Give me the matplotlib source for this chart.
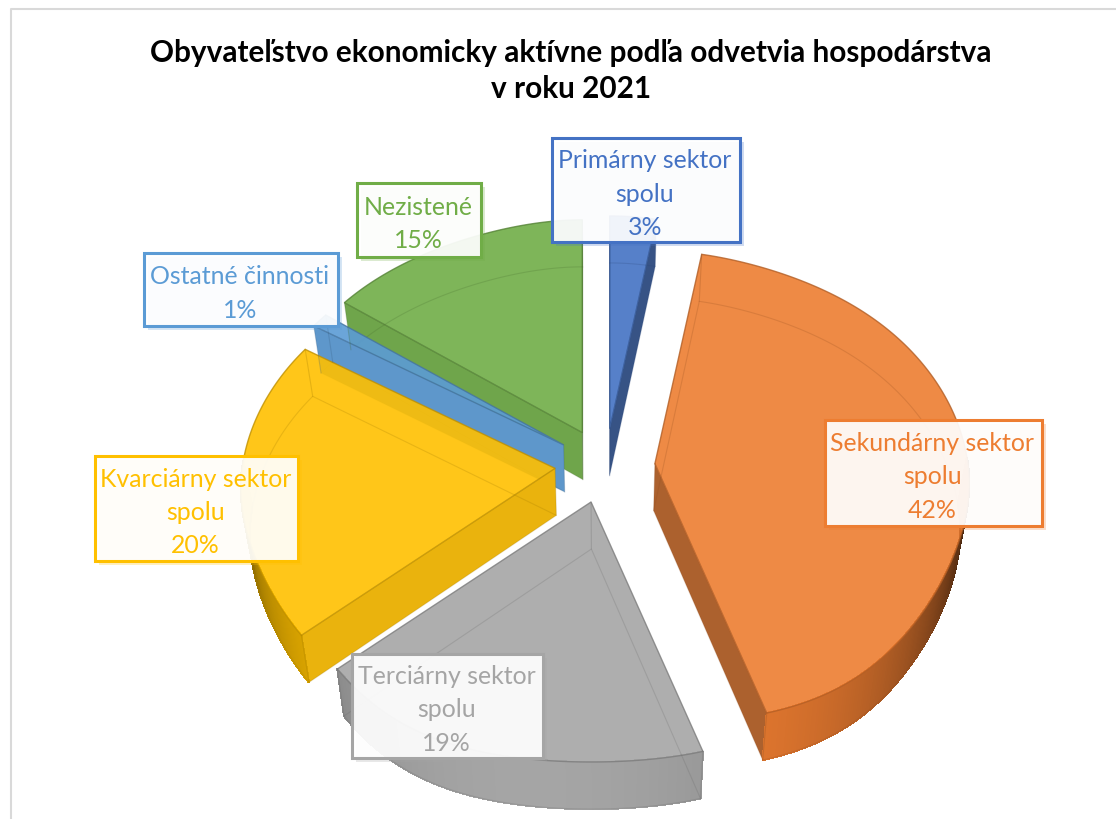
import numpy as np
import matplotlib
matplotlib.use("Agg")
import matplotlib.pyplot as plt
from matplotlib.patches import Polygon, Rectangle
from matplotlib.colors import to_rgb
import matplotlib.patheffects as pe

plt.rcParams['font.family'] = ['Lato', 'DejaVu Sans']

# data
kategorie = ["Primárny sektor\nspolu", "Sekundárny sektor\nspolu", "Terciárny sektor\nspolu",
             "Kvarciárny sektor\nspolu", "Ostatné činnosti", "Nezistené"]
hodnoty = [3, 42, 19, 20, 1, 15]
farby = ["#4472C4", "#ED7D31", "#A5A5A5", "#FFC000", "#5B9BD5", "#70AD47"]
titulok = "Obyvateľstvo ekonomicky aktívne podľa odvetvia hospodárstva\nv roku 2021"

# rozmery kolaca v pixeloch
CX, CY = 605, 467
RX, RY = 313, 234
EX, EY = 50, 37.5
HLBKA = 47
ALFA = 0.9

# obdlzniky popisiek (x0, y0, x1, y1)
boxy = [(552, 139, 740, 243), (825, 421, 1042, 527), (352, 655, 543, 759),
        (95, 457, 298, 562), (144, 254, 338, 327), (357, 184, 481, 258)]


def bod(t):
    """Bod na okraji kolaca, t je uhol v stupnoch v smere hodin od 12."""
    r = np.radians(t)
    v = np.cos(r)
    n = np.minimum(v, 0)
    sx = 1 - 0.10 * v - 0.12 * np.maximum(v, 0) ** 8 + 0.09 * n ** 6 - 0.12 * n ** 2 * (1 + n)
    sy = 1 / (1 + 0.10 * v) + 0.35 * n ** 2 * (1 + n)
    return RX * np.sin(r) * sx, -RY * v * sy


def spodok(p):
    """Spodna podstava je posunuta nadol a trochu uzsia."""
    p = np.asarray(p, dtype=float)
    return np.column_stack([CX + (p[:, 0] - CX) * 0.975, p[:, 1] + HLBKA])


def plocha(p):
    x, y = np.asarray(p).T
    return np.sum(x * np.roll(y, -1) - np.roll(x, -1) * y)


def tien_okraj(farba, facing):
    d = abs((facing - 190 + 180) % 360 - 180)
    s = max(0.2, 1 - 0.75 * (d / 90) ** 2)
    return tuple(c * s for c in to_rgb(farba))


def tien_stena(farba, facing):
    d = abs((facing - 180 + 180) % 360 - 180)
    s = 1 - 0.36 * (d / 80) ** 2
    return tuple(c * s * 0.95 + 0.05 for c in to_rgb(farba))


def stmav(farba, s=0.75):
    return tuple(c * s for c in to_rgb(farba))


def kresli_vysek(ax, t0, t1, farba):
    mid = (t0 + t1) / 2
    tip = np.array([CX + EX * np.sin(np.radians(mid)), CY - EY * np.cos(np.radians(mid))])
    uhly = np.linspace(t0, t1, max(3, int(t1 - t0) * 2 + 1))
    x, y = bod(uhly)
    okraj = np.column_stack([tip[0] + x, tip[1] + y])
    horna = np.vstack([tip, okraj])
    dolna = spodok(horna)

    # predne steny, zadne su len ako ciary cez priesvitnu plochu
    stena_a = [horna[0], horna[1], dolna[1], dolna[0]]
    stena_b = [horna[0], horna[-1], dolna[-1], dolna[0]]
    if plocha(stena_a) < 0:
        ax.add_patch(Polygon(stena_a, fc=tien_stena(farba, t0 - 90), ec="none"))
    if plocha(stena_b) > 0:
        ax.add_patch(Polygon(stena_b, fc=tien_stena(farba, t1 + 90), ec="none"))

    for i in range(1, len(horna) - 1):
        s = [horna[i], horna[i + 1], dolna[i + 1], dolna[i]]
        u = (uhly[i - 1] + uhly[i]) / 2
        if np.cos(np.radians(u)) < 0.03:
            c = tien_okraj(farba, u)
            ax.add_patch(Polygon(s, fc=c, ec=c, lw=0.8, antialiased=False))

    # vrchna plocha a hrany
    ax.add_patch(Polygon(horna, fc=farba, ec="none", alpha=ALFA))
    ax.add_patch(Polygon(horna, fc="none", ec=stmav(farba), lw=1.0, alpha=0.8))
    ax.add_patch(Polygon(dolna, fc="none", ec=stmav(farba, 0.6), lw=0.8, alpha=0.22))
    for i in (0, 1, -1):
        ax.plot([horna[i, 0], dolna[i, 0]], [horna[i, 1], dolna[i, 1]],
                color=stmav(farba, 0.6), lw=0.8, alpha=0.25)


fig = plt.figure(figsize=(11.16, 8.2), dpi=100)
ax = fig.add_axes([0, 0, 1, 1])
ax.set_xlim(0, 1116)
ax.set_ylim(820, 0)
ax.axis("off")

# ramik grafu
ax.plot([10.5, 10.5, 1116], [820, 10, 10], color="#D9D9D9", lw=1.5)

ax.text(571, 71, titulok, ha="center", va="center", fontsize=21.4, fontweight="bold",
        color="black", linespacing=1.35)

# uhly vysekov
hodnoty_arr = np.array(hodnoty, dtype=float)
konce = np.cumsum(hodnoty_arr) / hodnoty_arr.sum() * 360
zaciatky = konce - hodnoty_arr / hodnoty_arr.sum() * 360

# poradie kreslenia odzadu dopredu
for i in [0, 1, 5, 4, 2, 3]:
    kresli_vysek(ax, zaciatky[i], konce[i], farby[i])

# popisky
for nazov, hod, far, (x0, y0, x1, y1) in zip(kategorie, hodnoty, farby, boxy):
    r = Rectangle((x0, y0), x1 - x0, y1 - y0, fc=(1, 1, 1, 0.92), ec=far, lw=2.2, zorder=5)
    r.set_path_effects([pe.SimplePatchShadow(offset=(3, -3), shadow_rgbFace=far, alpha=0.25), pe.Normal()])
    ax.add_patch(r)
    ax.text((x0 + x1) / 2 - 1, (y0 + y1) / 2 + 3, f"{nazov}\n{hod}%", ha="center", va="center",
            fontsize=17.9, color=far, linespacing=1.55, zorder=6)

fig.savefig("out.png", dpi=100)
